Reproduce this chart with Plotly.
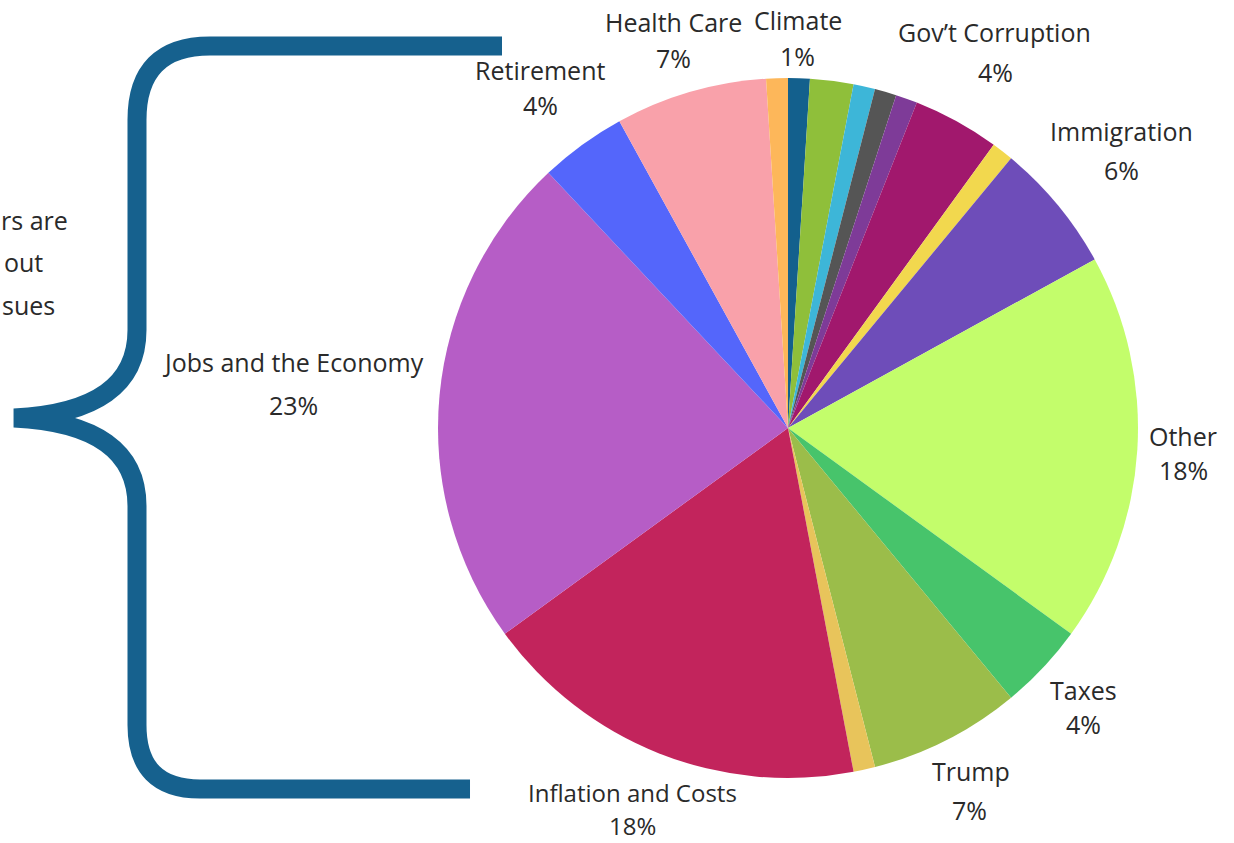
import plotly.graph_objects as go

# ---- data (clockwise from 12 o'clock) ----
labels = ["Climate", "Unlabeled green", "Unlabeled cyan", "Unlabeled gray", "Unlabeled purple",
          "Gov\u2019t Corruption", "Unlabeled yellow", "Immigration", "Other", "Taxes", "Trump",
          "Unlabeled gold", "Inflation and Costs", "Jobs and the Economy", "Retirement",
          "Health Care", "Unlabeled orange"]
values = [1, 2, 1, 1, 1, 4, 1, 6, 18, 4, 7, 1, 18, 23, 4, 7, 1]
colors = ["#13608d", "#8fbf3a", "#3db6d8", "#555555", "#7e3b98", "#a1186d", "#f2d84e",
          "#6e4db9", "#c3fd6b", "#47c46b", "#9bbd4a", "#e8c45b", "#c2245c", "#b65dc6",
          "#5466fb", "#f9a1aa", "#fdb75a"]
shown_labels = ["Health Care", "Climate", "Gov\u2019t Corruption", "Retirement", "Immigration",
                "Other", "Taxes", "Trump", "Inflation and Costs", "Jobs and the Economy"]
side_text = ["rs are", "out", "sues"]

# ---- layout helpers (pixel positions) ----
W, H = 1234, 843
cx, cy, R = 788, 428, 350

def px(x):
    return x / W

def py(y):
    return 1 - y / H

label_pos = {  # name center (x, y), percent center (x, y)
    "Health Care": ((673, 22), (673, 58)),
    "Climate": ((798, 20), (797, 56)),
    "Gov\u2019t Corruption": ((994, 32), (995, 72)),
    "Retirement": ((540, 70), (540, 105)),
    "Immigration": ((1121, 131), (1121, 170)),
    "Other": ((1183, 436), (1183, 470)),
    "Taxes": ((1083, 690), (1083, 724)),
    "Trump": ((971, 771), (969, 810)),
    "Inflation and Costs": ((632, 792), (632, 825)),
    "Jobs and the Economy": ((293, 362), (293, 405)),
}
label_size = {"Inflation and Costs": 24}
side_pos = [(70, 220, "right"), (45, 262, "right"), (57, 305, "right")]

fig = go.Figure(go.Pie(
    labels=labels, values=values, sort=False, direction="clockwise", rotation=0,
    marker=dict(colors=colors, line=dict(width=0)),
    textinfo="none", hoverinfo="label+percent", showlegend=False,
    domain=dict(x=[px(cx - R), px(cx + R)], y=[py(cy + R), py(cy - R)]),
))

FAMILY = "'Open Sans', Lato, sans-serif"
TCOL = "#2a2a2a"
anns = []
total = sum(values)
for name in shown_labels:
    v = values[labels.index(name)]
    (nx, ny), (qx, qy) = label_pos[name]
    f = dict(family=FAMILY, size=label_size.get(name, 25), color=TCOL)
    anns.append(dict(x=px(nx), y=py(ny), xref="paper", yref="paper", text=name,
                     showarrow=False, xanchor="center", yanchor="middle", font=f))
    anns.append(dict(x=px(qx), y=py(qy), xref="paper", yref="paper",
                     text=f"{round(100 * v / total)}%",
                     showarrow=False, xanchor="center", yanchor="middle", font=f))
for t, (sx, sy, anc) in zip(side_text, side_pos):
    anns.append(dict(x=px(sx), y=py(sy), xref="paper", yref="paper", text=t,
                     showarrow=False, xanchor=anc, yanchor="middle",
                     font=dict(family=FAMILY, size=25, color=TCOL)))

# brace path in pixel coords
brace_pts = [
    ("M", [(502, 46)]), ("L", [(210, 46)]), ("Q", [(137, 46), (137, 120)]),
    ("L", [(137, 330)]), ("Q", [(137, 412), (14, 418)]),
    ("Q", [(137, 424), (137, 506)]), ("L", [(137, 725)]),
    ("Q", [(137, 789), (200, 789)]), ("L", [(470, 789)]),
]
path = " ".join(cmd + " " + " ".join(f"{px(x):.5f},{py(y):.5f}" for x, y in pts)
                for cmd, pts in brace_pts)

fig.update_layout(
    width=W, height=H, margin=dict(l=0, r=0, t=0, b=0),
    paper_bgcolor="white", plot_bgcolor="white",
    annotations=anns,
    shapes=[dict(type="path", path=path, xref="paper", yref="paper",
                 line=dict(color="#16618e", width=19))],
)

fig.write_html("out.html", config={"displayModeBar": False},
               post_script="document.body.style.margin='0';")
